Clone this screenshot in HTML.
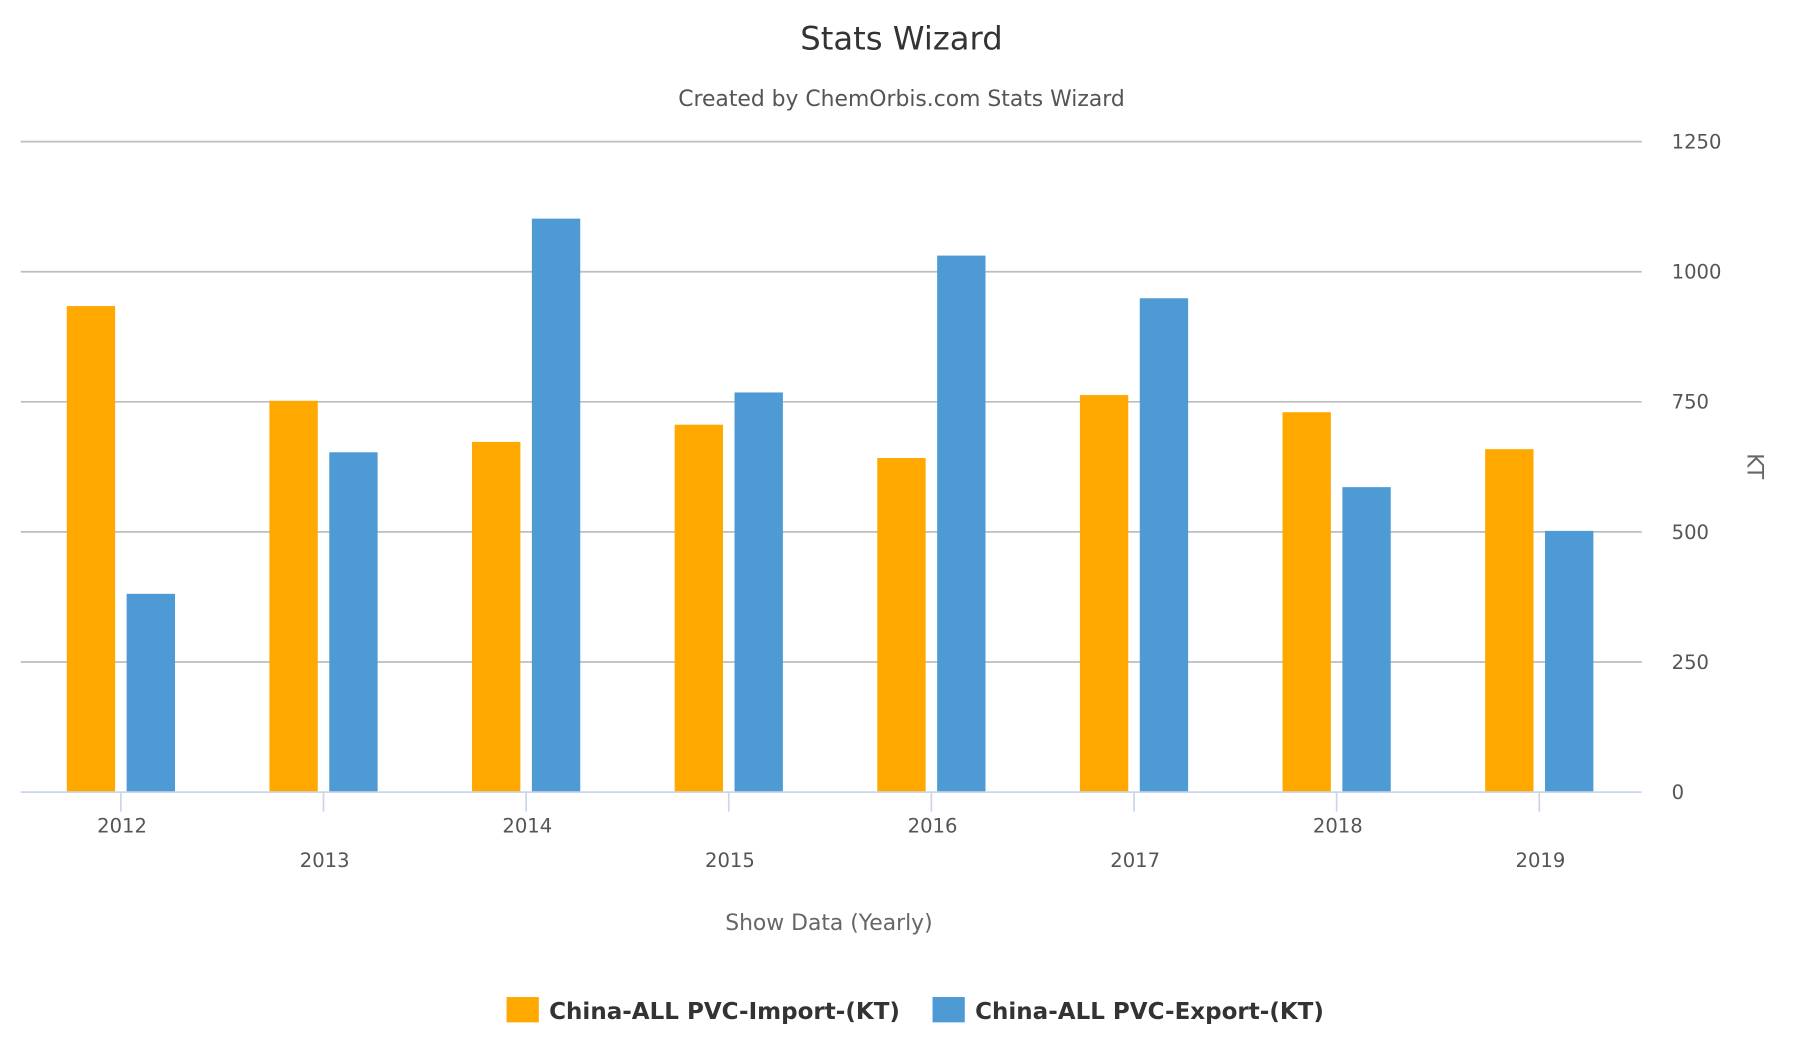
<!DOCTYPE html>
<html><head><meta charset="utf-8"><style>
html,body{margin:0;padding:0;background:#fff;}
svg{display:block;font-family:"DejaVu Sans","Liberation Sans",sans-serif;}
</style></head><body>
<svg id="chart" width="1796" height="1050" viewBox="0 0 1560 912" xmlns="http://www.w3.org/2000/svg">
<text x="783" y="43" text-anchor="middle" font-size="28" fill="#333">Stats Wizard</text>
<text x="783" y="92" text-anchor="middle" font-size="19" fill="#555">Created by ChemOrbis.com Stats Wizard</text>
<g id="grid"></g>
<g id="bars"></g>
<g id="xaxis"></g>
<g id="yaxis"></g>
<text transform="translate(1518,405) rotate(90)" text-anchor="middle" font-size="19" fill="#666">KT</text>
<text x="720" y="808" text-anchor="middle" font-size="19" fill="#666">Show Data (Yearly)</text>
<g>
<g><rect x="440" y="866" width="28" height="22" fill="#ffa800"/><text x="477" y="885" font-size="20" font-weight="bold" fill="#333">China-ALL PVC-Import-(KT)</text></g>
<g><rect x="810" y="866" width="28" height="22" fill="#4d9ad4"/><text x="847" y="885" font-size="20" font-weight="bold" fill="#333">China-ALL PVC-Export-(KT)</text></g>
</g>
</svg>
<script>
const categories = ["2012","2013","2014","2015","2016","2017","2018","2019"];
const importValues = [934, 752, 673, 706, 642, 763, 730, 659];
const exportValues = [381, 653, 1102, 768, 1031, 949, 586, 502];
const yTicks = [0, 250, 500, 750, 1000, 1250];

const NS = "http://www.w3.org/2000/svg";
const left = 18, right = 1426, y0 = 688, yTop = 123, yMax = 1250;
const band = (right - left) / categories.length;
function yScale(v){ return y0 - (v / yMax) * (y0 - yTop); }
function xCenter(i){ return left + band * (i + 0.5) - 1; }
function mk(tag, attrs, parent){ const e = document.createElementNS(NS, tag); for (const k in attrs) e.setAttribute(k, attrs[k]); parent.appendChild(e); return e; }

const grid = document.getElementById('grid');
const yaxis = document.getElementById('yaxis');
yTicks.forEach(t => {
  const y = yScale(t);
  if (t > 0) {
    const l = mk('line', {x1: left, x2: right, y1: y, y2: y, stroke: '#bdbdbd', 'stroke-width': 1.5}, grid);
    
    
  }
  const tx = mk('text', {x: 1452, y: y + 6, 'font-size': 17, fill: '#555'}, yaxis);
  tx.textContent = t;
  
  
});

const bars = document.getElementById('bars');
const bw = 42;
categories.forEach((c, i) => {
  const cx = xCenter(i);
  const a = mk('rect', {x: cx - 47, y: yScale(importValues[i]), width: bw, height: y0 - yScale(importValues[i]), fill: '#ffa800'}, bars);
  
  
  const b = mk('rect', {x: cx + 5, y: yScale(exportValues[i]), width: bw, height: y0 - yScale(exportValues[i]), fill: '#4d9ad4'}, bars);
  
  
});

const xaxis = document.getElementById('xaxis');
const ax = mk('line', {x1: left, x2: right, y1: y0, y2: y0, stroke: '#ccd6eb', 'stroke-width': 1.5}, xaxis);


categories.forEach((c, i) => {
  const cx = xCenter(i);
  const tk = mk('line', {x1: cx, x2: cx, y1: y0, y2: y0 + 17, stroke: '#ccd6eb', 'stroke-width': 1.5}, xaxis);
  
  
  const tx = mk('text', {x: cx + 1, y: i % 2 === 0 ? 723 : 753, 'text-anchor': 'middle', 'font-size': 17, fill: '#555'}, xaxis);
  tx.textContent = c;
  
  
});
</script>
</body></html>
